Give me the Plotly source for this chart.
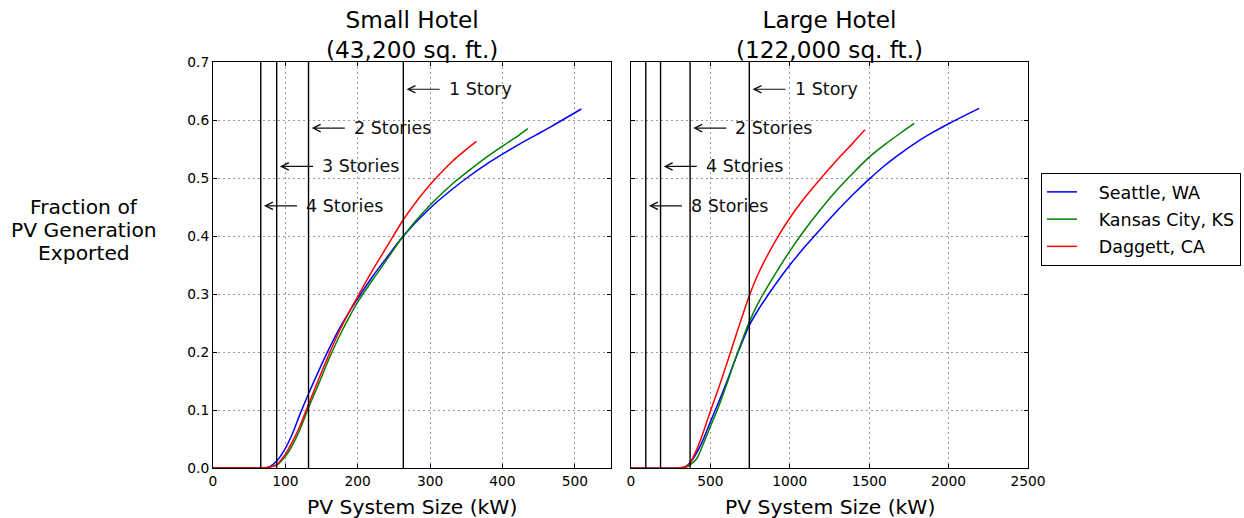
import plotly.graph_objects as go

# ---------------- data ----------------
# Small hotel (43,200 sq. ft.): PV system size (kW) vs fraction of PV generation exported
small_seattle_kw = [0, 60, 70, 78, 88, 100, 110, 120, 132, 147, 161, 175, 189, 201, 221,
                    239, 263, 299, 331, 354, 377, 400, 423, 446, 469, 509]
small_seattle = [0, 0, 0, 0.002, 0.012, 0.034, 0.06, 0.092, 0.128, 0.17, 0.207, 0.241,
                 0.271, 0.294, 0.331, 0.361, 0.40, 0.447, 0.481, 0.503, 0.523, 0.541, 0.558,
                 0.574, 0.59, 0.619]

small_kansas_kw = [0, 60, 75, 88, 100, 110, 120, 132, 147, 161, 175, 189, 201, 221, 239,
                   263, 299, 331, 354, 377, 400, 423, 435]
small_kansas = [0, 0, 0.001, 0.005, 0.02, 0.04, 0.066, 0.104, 0.148, 0.19, 0.228, 0.262,
                0.288, 0.325, 0.357, 0.40, 0.452, 0.49, 0.513, 0.535, 0.555, 0.574, 0.585]

small_daggett_kw = [0, 60, 75, 88, 100, 110, 120, 132, 147, 161, 175, 189, 201, 221, 239,
                    263, 285, 306, 331, 364]
small_daggett = [0, 0, 0.001, 0.006, 0.024, 0.046, 0.072, 0.11, 0.156, 0.198, 0.237, 0.271,
                 0.298, 0.342, 0.379, 0.428, 0.466, 0.497, 0.529, 0.563]

# Large hotel (122,000 sq. ft.)
large_seattle_kw = [0, 300, 340, 369, 411, 453, 496, 548, 601, 665, 745, 800, 900, 1000,
                    1100, 1200, 1300, 1400, 1500, 1600, 1700, 1800, 1900, 2000, 2100, 2192]
large_seattle = [0, 0, 0.002, 0.008, 0.025, 0.048, 0.077, 0.111, 0.147, 0.193, 0.246, 0.272,
                 0.313, 0.350, 0.383, 0.414, 0.444, 0.472, 0.498, 0.522, 0.543, 0.562,
                 0.5785, 0.5935, 0.6075, 0.62]

large_kansas_kw = [0, 300, 340, 369, 411, 453, 496, 548, 601, 665, 745, 800, 900, 1000,
                   1100, 1200, 1300, 1400, 1500, 1600, 1700, 1784]
large_kansas = [0, 0, 0.001, 0.005, 0.015, 0.04, 0.069, 0.103, 0.143, 0.194, 0.252, 0.284,
                0.331, 0.374, 0.413, 0.448, 0.48, 0.509, 0.536, 0.558, 0.578, 0.594]

large_daggett_kw = [0, 300, 340, 369, 411, 453, 496, 548, 601, 665, 745, 800, 900, 1000,
                    1100, 1200, 1300, 1400, 1473]
large_daggett = [0, 0, 0.002, 0.008, 0.03, 0.06, 0.095, 0.135, 0.178, 0.232, 0.297, 0.334,
                 0.387, 0.431, 0.468, 0.501, 0.532, 0.561, 0.583]

# Roof-limited system sizes by number of stories
small_story_kw = [263, 132, 88, 66]
small_story_labels = ["1 Story", "2 Stories", "3 Stories", "4 Stories"]
large_story_kw = [745, 372, 186, 93]
large_story_labels = ["1 Story", "2 Stories", "4 Stories", "8 Stories"]
story_label_y = [0.653, 0.586, 0.52, 0.452]

location_names = ["Seattle, WA", "Kansas City, KS", "Daggett, CA"]
location_colors = ["#0000ff", "#008000", "#ff0000"]

panel_titles = ["Small Hotel<br>(43,200 sq. ft.)", "Large Hotel<br>(122,000 sq. ft.)"]
x_title = "PV System Size (kW)"
y_title_lines = ["Fraction of", "PV Generation", "Exported"]

# ---------------- layout geometry (pixels) ----------------
W, H = 1244, 518
FONT = "DejaVu Sans"
left_px = (213, 611)
right_px = (631, 1028)
top_px, bottom_px = 62, 468


def px_x(p):
    return p / W


def px_y(p):
    return 1 - p / H


fig = go.Figure()

series = [
    (small_seattle_kw, small_seattle, large_seattle_kw, large_seattle),
    (small_kansas_kw, small_kansas, large_kansas_kw, large_kansas),
    (small_daggett_kw, small_daggett, large_daggett_kw, large_daggett),
]
for (sx, sy, lx, ly), name, color in zip(series, location_names, location_colors):
    line_style = dict(color=color, width=1.5, shape="spline", smoothing=0.8)
    fig.add_trace(go.Scatter(x=sx, y=sy, mode="lines", name="   " + name, legendgroup=name,
                             line=line_style, xaxis="x", yaxis="y"))
    fig.add_trace(go.Scatter(x=lx, y=ly, mode="lines", name=name, legendgroup=name,
                             showlegend=False, line=line_style, xaxis="x2", yaxis="y2"))

annotations = []
shapes = []
panels = [
    ("x", "y", 550, small_story_kw, small_story_labels),
    ("x2", "y2", 2500, large_story_kw, large_story_labels),
]
for xref, yref, span, kws, labels in panels:
    for kw, label, yv in zip(kws, labels, story_label_y):
        shapes.append(dict(type="line", xref=xref, yref=f"{yref} domain", x0=kw, x1=kw,
                           y0=0, y1=1, line=dict(color="black", width=1.4), layer="above"))
        # arrow pointing left at the story line
        annotations.append(dict(xref=xref, yref=yref, axref=xref, ayref=yref,
                                x=kw + 0.008 * span, y=yv, ax=kw + 0.095 * span, ay=yv,
                                text="", showarrow=True, arrowhead=5, arrowsize=1.2,
                                arrowwidth=1.2, arrowcolor="#111111"))
        annotations.append(dict(xref=xref, yref=yref, x=kw + 0.109 * span, y=yv,
                                text=label, showarrow=False, xanchor="left", yanchor="middle",
                                font=dict(family=FONT, size=17.5, color="#111111")))

# panel titles and x-axis titles
for title, (a, b) in zip(panel_titles, [left_px, right_px]):
    cx = px_x((a + b) / 2)
    annotations.append(dict(xref="paper", yref="paper", x=cx, y=px_y(34.5), text=title,
                            showarrow=False, xanchor="center", yanchor="middle",
                            font=dict(family=FONT, size=23.2, color="black")))
    annotations.append(dict(xref="paper", yref="paper", x=cx, y=px_y(506.5), text=x_title,
                            showarrow=False, xanchor="center", yanchor="middle",
                            font=dict(family=FONT, size=20.3, color="black")))

# y-axis title, written horizontally on three lines
for line, ypix in zip(y_title_lines, [206.5, 230, 253.5]):
    annotations.append(dict(xref="paper", yref="paper", x=px_x(84), y=px_y(ypix), text=line,
                            showarrow=False, xanchor="center", yanchor="middle",
                            font=dict(family=FONT, size=20.3, color="black")))

axis_common = dict(
    showline=True, linecolor="black", linewidth=1, mirror="allticks",
    ticks="inside", ticklen=4, tickwidth=1, tickcolor="black",
    showgrid=True, gridcolor="#9a9a9a", gridwidth=0.8, griddash="2px,3px",
    zeroline=False, tickfont=dict(family=FONT, size=13.8, color="black"),
)

fig.update_layout(
    width=W, height=H,
    margin=dict(l=0, r=0, t=0, b=0),
    paper_bgcolor="white", plot_bgcolor="white",
    font=dict(family=FONT, color="black"),
    xaxis=dict(domain=[px_x(left_px[0]), px_x(left_px[1])], range=[0, 550], dtick=100,
               anchor="y", automargin=False, **axis_common),
    yaxis=dict(domain=[px_y(bottom_px), px_y(top_px)], range=[0, 0.7], dtick=0.1,
               tickformat=".1f", anchor="x", automargin=False, **axis_common),
    xaxis2=dict(domain=[px_x(right_px[0]), px_x(right_px[1])], range=[0, 2500], dtick=500,
                anchor="y2", automargin=False, **axis_common),
    yaxis2=dict(domain=[px_y(bottom_px), px_y(top_px)], range=[0, 0.7], dtick=0.1,
                anchor="x2", showticklabels=False, automargin=False, **axis_common),
    legend=dict(x=px_x(1041), y=px_y(173), xanchor="left", yanchor="top",
                bordercolor="black", borderwidth=1, bgcolor="white",
                font=dict(family=FONT, size=17.5, color="black"),
                traceorder="grouped", tracegroupgap=1.5),
    annotations=annotations,
    shapes=shapes,
)

fig.write_html("out.html")
